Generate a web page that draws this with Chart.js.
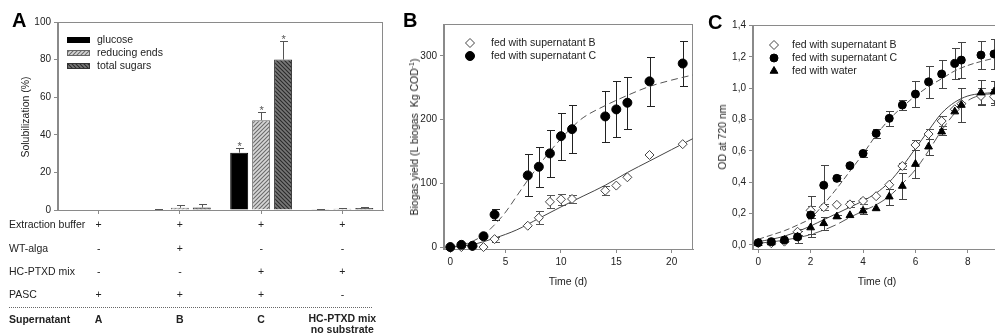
<!DOCTYPE html>
<html>
<head>
<meta charset="utf-8">
<script src="https://cdn.jsdelivr.net/npm/chart.js@4.4.1/dist/chart.umd.min.js"></script>
<style>
  body { margin: 0; width: 995px; height: 334px; overflow: hidden; position: relative; background: #fff;
         font-family: Arial, "Liberation Sans", sans-serif; color: #222; }
  canvas { position: absolute; top: 0; }
  .txt { position: absolute; font-size: 10.5px; line-height: 11px; white-space: pre; text-align: center; }
  .mid { transform: translate(-50%, -50%); }
  .lft { transform: translate(0, -50%); text-align: left; }
  .bold { font-weight: bold; }
  .rot { position: absolute; font-size: 10.5px; white-space: nowrap; line-height: 12px; transform: translate(-50%, -50%) rotate(-90deg); }
  .rot sup { font-size: 7px; line-height: 0; vertical-align: 4px; }
  .letter { position: absolute; font-size: 20px; font-weight: bold; line-height: 20px; color: #000; }
  .dots { position: absolute; left: 9px; top: 307px; width: 363px; border-top: 1px dotted #666; }
</style>
</head>
<body>
<canvas id="cA" width="400" height="334" style="left:0"></canvas>
<canvas id="cB" width="300" height="334" style="left:400px"></canvas>
<canvas id="cC" width="340" height="334" style="left:700px"></canvas>
<div class="letter" style="left:12px;top:10px">A</div>
<div class="letter" style="left:403px;top:10px">B</div>
<div class="letter" style="left:708px;top:12px">C</div>
<div class="rot" style="left:25px;top:117px">Solubilization (%)</div>
<div class="rot" style="left:414px;top:137px">Biogas yield (L biogas&nbsp;&nbsp;Kg COD<sup>-1</sup>)</div>
<div class="rot" style="left:722px;top:137px">OD at 720 nm</div>
<div class="txt mid" style="left:568px;top:281px">Time (d)</div>
<div class="txt mid" style="left:877px;top:281px">Time (d)</div>
<div class="dots"></div>
<script>
// ---- panel A : solubilization ----
const supernatants = ['A', 'B', 'C', 'HC-PTXD mix'];
const glucose = [0, 0.3, 30.5, 0.4];
const glucoseErr = [0, 0.2, 2.5, 0.2];
const reducingEnds = [0, 1.2, 47.8, 0.7];
const reducingErr = [0, 1.2, 4.5, 0.4];
const totalSugars = [0, 1.3, 80, 1.1];
const totalErr = [0, 2.0, 10, 0.5];
const significant = [false, false, true, false];
const yTicksA = [0, 20, 40, 60, 80, 100];

const tableRows = ['Extraction buffer', 'WT-alga', 'HC-PTXD mix', 'PASC'];
const tableMarks = [
  ['+', '+', '+', '+'],
  ['-', '+', '-', '-'],
  ['-', '-', '+', '+'],
  ['+', '+', '+', '-']
];
const supernatantLabels = ['A', 'B', 'C', 'HC-PTXD mix\nno substrate'];

// ---- panel B : biogas ----
const timeB = [0, 1, 2, 3, 4, 7, 8, 9, 10, 11, 14, 15, 16, 18, 21];
const biogasB = [0, 0, 1, 0, 12.5, 33.5, 46, 71, 75, 75.5, 88.5, 96.5, 109.5, 144.5, 161.5];
const biogasBErr = [0, 0, 0, 0, 4, 0, 10, 10, 9, 7, 7, 0, 0, 0, 0];
const biogasC = [0, 3.5, 2, 17, 51, 112.5, 126, 147, 174, 185, 205, 216, 226.5, 260, 288];
const biogasCErr = [0, 0, 0, 0, 9, 33, 31, 37, 37, 38, 40, 44, 41, 39, 36];
const fitTimeB1 = [0, 2, 4, 6, 8, 10, 12, 14, 16, 18, 20, 21.9];
const fitBiogasB = [0, 4, 14, 27, 45, 63, 80, 97, 117, 135, 153, 170];
const fitTimeB2 = [0, 1, 2, 3, 4, 5, 6, 7, 8, 9, 10, 11, 12, 14, 16, 18, 20, 21.9];
const fitBiogasC = [0, 3, 9, 19, 35, 55, 80, 105, 128, 150, 170, 188, 203, 222, 238, 252, 262, 270];
const xTicksB = [0, 5, 10, 15, 20];
const yTicksB = [0, 100, 200, 300];

// ---- panel C : OD ----
const timeC = [0, 0.5, 1, 1.5, 2, 2.5, 3, 3.5, 4, 4.5, 5, 5.5, 6, 6.5, 7, 7.5, 7.75, 8.5, 9];
const odB = [0.01, 0.01, 0.02, 0.083, 0.22, 0.24, 0.255, 0.258, 0.28, 0.31, 0.383, 0.503, 0.637, 0.707, 0.79, 0.865, 0.9, 0.95, 0.945];
const odBErr = [0, 0, 0, 0.02, 0.03, 0.02, 0, 0.02, 0.02, 0, 0, 0.02, 0.03, 0.03, 0.03, 0, 0, 0.05, 0.05];
const odC = [0.013, 0.02, 0.03, 0.05, 0.19, 0.38, 0.424, 0.505, 0.583, 0.711, 0.807, 0.892, 0.962, 1.04, 1.09, 1.158, 1.179, 1.211, 1.218];
const odCErr = [0, 0, 0, 0.04, 0.12, 0.13, 0.02, 0, 0.02, 0.03, 0.048, 0.03, 0.083, 0.1, 0.087, 0.1, 0.117, 0.088, 0.098];
const odW = [0.01, 0.014, 0.03, 0.05, 0.11, 0.137, 0.18, 0.188, 0.217, 0.232, 0.307, 0.375, 0.515, 0.626, 0.722, 0.85, 0.892, 0.971, 0.977];
const odWErr = [0, 0, 0, 0, 0.06, 0.04, 0.01, 0, 0.02, 0, 0.05, 0.08, 0.09, 0.05, 0.02, 0, 0.11, 0.08, 0.07];
const fitTimeC = [0, 0.5, 1, 1.5, 2, 2.5, 3, 3.5, 4, 4.5, 5, 5.5, 6, 6.5, 7, 7.5, 8, 8.5, 9, 9.5];
const fitOdB = [0.02, 0.035, 0.055, 0.085, 0.12, 0.16, 0.2, 0.24, 0.28, 0.33, 0.40, 0.50, 0.615, 0.73, 0.84, 0.91, 0.95, 0.965, 0.97, 0.97];
const fitOdC = [0.035, 0.062, 0.09, 0.126, 0.17, 0.26, 0.36, 0.47, 0.58, 0.70, 0.80, 0.88, 0.95, 1.01, 1.06, 1.11, 1.145, 1.17, 1.19, 1.20];
const fitOdW = [0.01, 0.018, 0.03, 0.045, 0.065, 0.094, 0.13, 0.175, 0.215, 0.255, 0.31, 0.39, 0.48, 0.6, 0.73, 0.84, 0.92, 0.955, 0.965, 0.97];
const xTicksC = [0, 2, 4, 6, 8, 10];
const yTicksC = [0, 0.2, 0.4, 0.6, 0.8, 1.0, 1.2, 1.4];
const yTickLabelsC = ['0,0', '0,2', '0,4', '0,6', '0,8', '1,0', '1,2', '1,4'];

const FONT = 'Arial, "Liberation Sans", sans-serif';
const AX = '#8a8a8a';
Chart.defaults.font.family = FONT;
Chart.defaults.font.size = 10;
Chart.defaults.color = '#222';
Chart.defaults.animation = false;
Chart.defaults.responsive = false;
Chart.defaults.plugins.legend.display = false;
Chart.defaults.plugins.tooltip.enabled = false;

const pts = (xs, ys) => xs.map((x, i) => ({ x: x, y: ys[i] }));

function linAxis(min, max, ticks, size, labels) {
  return {
    type: 'linear', min: min, max: max,
    afterFit: s => { if (s.isHorizontal()) s.height = size; else s.width = size; },
    afterBuildTicks: s => { s.ticks = ticks.map(v => ({ value: v })); },
    ticks: { padding: 3, color: '#222', callback: (v, i) => labels ? labels[i] : v },
    grid: { drawOnChartArea: false, tickLength: 4, color: AX },
    border: { color: AX }
  };
}

function hatch(canvas, bg, fg, dir) {
  const c = document.createElement('canvas');
  c.width = c.height = 4;
  const x = c.getContext('2d');
  x.fillStyle = bg; x.fillRect(0, 0, 4, 4);
  x.strokeStyle = fg; x.lineWidth = 1.1;
  x.beginPath();
  if (dir > 0) {
    x.moveTo(-1, 5); x.lineTo(5, -1);
    x.moveTo(-1, 1); x.lineTo(1, -1);
    x.moveTo(3, 5); x.lineTo(5, 3);
  } else {
    x.moveTo(-1, -1); x.lineTo(5, 5);
    x.moveTo(3, -1); x.lineTo(5, 1);
    x.moveTo(-1, 3); x.lineTo(1, 5);
  }
  x.stroke();
  return canvas.getContext('2d').createPattern(c, 'repeat');
}

function marker(ctx, style, x, y, r, fill, stroke) {
  ctx.beginPath();
  if (style === 'circle') ctx.arc(x, y, r, 0, 2 * Math.PI);
  else if (style === 'rectRot') { ctx.moveTo(x - r, y); ctx.lineTo(x, y - r); ctx.lineTo(x + r, y); ctx.lineTo(x, y + r); ctx.closePath(); }
  else { ctx.moveTo(x, y - r); ctx.lineTo(x + r * 0.866, y + r / 2); ctx.lineTo(x - r * 0.866, y + r / 2); ctx.closePath(); }
  ctx.fillStyle = fill; ctx.fill();
  ctx.strokeStyle = stroke; ctx.lineWidth = 1; ctx.stroke();
}

const frame = {
  id: 'frame',
  beforeDatasetsDraw(c) {
    const a = c.chartArea, ctx = c.ctx;
    ctx.save();
    ctx.strokeStyle = AX; ctx.lineWidth = 1;
    ctx.strokeRect(Math.round(a.left) - 0.5, Math.round(a.top) + 0.5, Math.round(a.right - a.left), Math.round(a.bottom - a.top));
    ctx.restore();
  }
};

function errorBars(front, upOnly, cap) {
  const draw = c => {
    const ctx = c.ctx, ys = c.scales.y;
    c.data.datasets.forEach((ds, i) => {
      if (!ds.err) return;
      const meta = c.getDatasetMeta(i);
      ctx.save();
      ctx.strokeStyle = ds.errColor || '#333';
      ctx.lineWidth = 1;
      ctx.beginPath();
      meta.data.forEach((el, j) => {
        const e = ds.err[j];
        if (!e) return;
        const d = ds.data[j];
        const v = typeof d === 'object' ? d.y : d;
        const x = Math.round(el.x) + 0.5;
        const top = Math.round(ys.getPixelForValue(v + e)) + 0.5;
        const bot = upOnly ? el.y : Math.round(ys.getPixelForValue(v - e)) + 0.5;
        ctx.moveTo(x, top); ctx.lineTo(x, bot);
        ctx.moveTo(x - cap, top); ctx.lineTo(x + cap + 1, top);
        if (!upOnly) { ctx.moveTo(x - cap, bot); ctx.lineTo(x + cap + 1, bot); }
      });
      ctx.stroke();
      ctx.restore();
    });
  };
  return front ? { id: 'errBars', afterDatasetsDraw: draw } : { id: 'errBars', beforeDatasetsDraw: draw };
}

function symLegend(x0, y0, dy, tx) {
  return {
    id: 'symLegend',
    afterDraw(c) {
      const ctx = c.ctx;
      let row = 0;
      c.data.datasets.forEach(ds => {
        if (!ds.inLegend) return;
        const y = y0 + row * dy;
        marker(ctx, ds.pointStyle, x0, y, ds.pointRadius, ds.backgroundColor, ds.borderColor);
        ctx.fillStyle = '#222';
        ctx.font = '10.5px ' + FONT;
        ctx.textBaseline = 'middle';
        ctx.fillText(ds.label, tx, y + 0.5);
        row++;
      });
    }
  };
}

// ---------- Panel A ----------
const cA = document.getElementById('cA');
const legendA = {
  id: 'legendA',
  afterDraw(c) {
    const ctx = c.ctx;
    c.data.datasets.forEach((ds, i) => {
      const y = 37 + i * 13;
      ctx.fillStyle = ds.backgroundColor;
      ctx.fillRect(67, y, 23, 6);
      ctx.strokeStyle = ds.borderColor; ctx.lineWidth = 1;
      ctx.strokeRect(67.5, y + 0.5, 22, 5);
      ctx.fillStyle = '#222';
      ctx.font = '10.5px ' + FONT;
      ctx.textBaseline = 'middle';
      ctx.fillText(ds.label, 97, y + 3.5);
    });
  }
};
const starsA = {
  id: 'starsA',
  afterDatasetsDraw(c) {
    const ctx = c.ctx, ys = c.scales.y;
    ctx.save();
    ctx.fillStyle = '#555';
    ctx.font = '11px ' + FONT;
    ctx.textAlign = 'center';
    ctx.textBaseline = 'alphabetic';
    c.data.datasets.forEach((ds, i) => {
      c.getDatasetMeta(i).data.forEach((el, j) => {
        if (!significant[j]) return;
        const top = ys.getPixelForValue(ds.data[j] + ds.err[j]);
        ctx.fillText('*', el.x + 0.5, top + 2.5);
      });
    });
    ctx.restore();
  }
};

const chartA = new Chart(cA, {
  type: 'bar',
  data: {
    labels: supernatants,
    datasets: [
      { label: 'glucose', data: glucose, err: glucoseErr, errColor: '#555',
        backgroundColor: '#000', borderColor: '#000', borderWidth: 1 },
      { label: 'reducing ends', data: reducingEnds, err: reducingErr, errColor: '#555',
        backgroundColor: hatch(cA, '#d6d6d6', '#6a6a6a', 1), borderColor: '#666', borderWidth: 1 },
      { label: 'total sugars', data: totalSugars, err: totalErr, errColor: '#555',
        backgroundColor: hatch(cA, '#777', '#2a2a2a', -1), borderColor: '#333', borderWidth: 1 }
    ]
  },
  options: {
    layout: { padding: { left: 0, top: 22, right: 17, bottom: 118 } },
    datasets: { bar: { categoryPercentage: 0.81, barPercentage: 0.82 } },
    scales: {
      x: {
        type: 'category',
        afterFit: s => { s.height = 6; },
        ticks: { display: false },
        grid: { drawOnChartArea: false, offset: false, tickLength: 4, color: AX },
        border: { color: AX }
      },
      y: linAxis(0, 100, yTicksA, 58)
    }
  },
  plugins: [frame, errorBars(true, true, 3.5), starsA, legendA]
});

// table under panel A, columns follow the chart's category positions
function addText(text, x, y, cls) {
  const d = document.createElement('div');
  d.className = 'txt ' + cls;
  d.textContent = text;
  d.style.left = x + 'px';
  d.style.top = y + 'px';
  document.body.appendChild(d);
}
const xsA = chartA.scales.x;
const rowY = [224, 248, 271, 294];
tableRows.forEach((name, r) => {
  addText(name, 9, rowY[r], 'lft');
  tableMarks[r].forEach((m, i) => addText(m, xsA.getPixelForValue(i), rowY[r], 'mid'));
});
addText('Supernatant', 9, 319, 'lft bold');
supernatantLabels.forEach((s, i) => {
  addText(s, xsA.getPixelForValue(i), s.indexOf('\n') >= 0 ? 324 : 319, 'mid bold');
});

// ---------- Panel B ----------
new Chart(document.getElementById('cB'), {
  type: 'scatter',
  data: {
    datasets: [
      { label: 'fed with supernatant B', inLegend: true, data: pts(timeB, biogasB), err: biogasBErr, errColor: '#555',
        pointStyle: 'rectRot', pointRadius: 4.5, backgroundColor: '#fff', borderColor: '#444', borderWidth: 1, order: 1, clip: false },
      { label: 'fed with supernatant C', inLegend: true, data: pts(timeB, biogasC), err: biogasCErr, errColor: '#222',
        pointStyle: 'circle', pointRadius: 4.5, backgroundColor: '#000', borderColor: '#000', borderWidth: 1, order: 0, clip: false },
      { label: 'fit B', data: pts(fitTimeB1, fitBiogasB), showLine: true, pointRadius: 0,
        borderColor: '#444', borderWidth: 1, tension: 0.4, cubicInterpolationMode: 'monotone', order: 3 },
      { label: 'fit C', data: pts(fitTimeB2, fitBiogasC), showLine: true, pointRadius: 0, borderDash: [7, 4],
        borderColor: '#555', borderWidth: 1, tension: 0.4, cubicInterpolationMode: 'monotone', order: 2 }
    ]
  },
  options: {
    layout: { padding: { left: 0, top: 24, right: 7, bottom: 65 } },
    scales: {
      x: linAxis(-0.57, 21.93, xTicksB, 20),
      y: linAxis(-3, 350, yTicksB, 44)
    }
  },
  plugins: [frame, errorBars(false, false, 3.5), symLegend(70, 43, 13, 91)]
});

// ---------- Panel C ----------
new Chart(document.getElementById('cC'), {
  type: 'scatter',
  data: {
    datasets: [
      { label: 'fed with supernatant B', inLegend: true, data: pts(timeC, odB), err: odBErr, errColor: '#555',
        pointStyle: 'rectRot', pointRadius: 4.5, backgroundColor: '#fff', borderColor: '#444', borderWidth: 1, order: 2, clip: false },
      { label: 'fed with supernatant C', inLegend: true, data: pts(timeC, odC), err: odCErr, errColor: '#444',
        pointStyle: 'circle', pointRadius: 4, backgroundColor: '#000', borderColor: '#000', borderWidth: 1, order: 0, clip: false },
      { label: 'fed with water', inLegend: true, data: pts(timeC, odW), err: odWErr, errColor: '#444',
        pointStyle: 'triangle', pointRadius: 4.5, backgroundColor: '#000', borderColor: '#000', borderWidth: 1, order: 1, clip: false },
      { label: 'fit B', data: pts(fitTimeC, fitOdB), showLine: true, pointRadius: 0,
        borderColor: '#444', borderWidth: 1, tension: 0.4, cubicInterpolationMode: 'monotone', order: 5 },
      { label: 'fit C', data: pts(fitTimeC, fitOdC), showLine: true, pointRadius: 0, borderDash: [6, 3],
        borderColor: '#555', borderWidth: 1, tension: 0.4, cubicInterpolationMode: 'monotone', order: 4 },
      { label: 'fit water', data: pts(fitTimeC, fitOdW), showLine: true, pointRadius: 0, borderDash: [10, 4],
        borderColor: '#555', borderWidth: 1, tension: 0.4, cubicInterpolationMode: 'monotone', order: 3 }
    ]
  },
  options: {
    layout: { padding: { left: 0, top: 25, right: 14.5, bottom: 65 } },
    scales: {
      x: linAxis(-0.2, 10.2, xTicksC, 20),
      y: linAxis(-0.027, 1.403, yTicksC, 53, yTickLabelsC)
    }
  },
  plugins: [frame, errorBars(false, false, 3.5), symLegend(74, 45, 13, 92)]
});
</script>
</body>
</html>
